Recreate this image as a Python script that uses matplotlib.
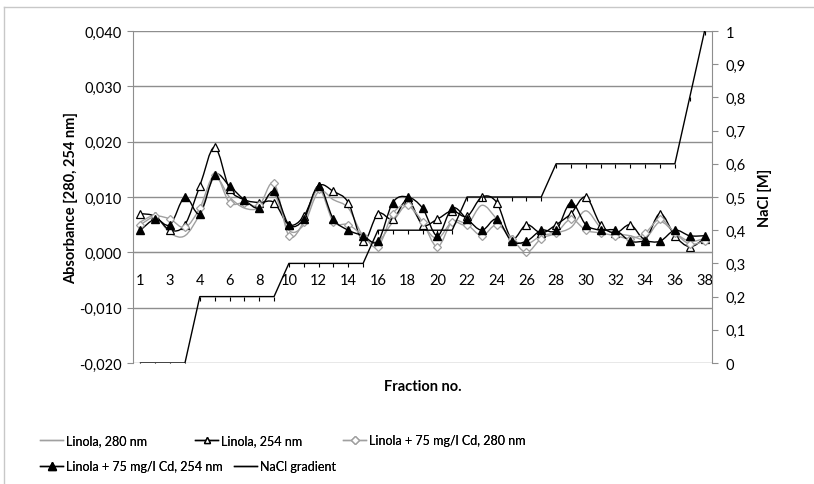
import matplotlib
matplotlib.use('Agg')
import matplotlib.pyplot as plt
from matplotlib.path import Path
from matplotlib.patches import PathPatch
from matplotlib.lines import Line2D
from matplotlib.ticker import FuncFormatter, MultipleLocator

plt.rcParams['font.family'] = ['Lato', 'DejaVu Sans']

# fraction labels (category axis, every other one is shown)
fractions = ['1', '2', '3', '3', '4'] + [str(n) for n in range(5, 39)]

# absorbance values
linola_280 = [0.0055, 0.0065, 0.0035, 0.0030, 0.0070, 0.0135, 0.0100, 0.0080, 0.0080, 0.0105,
              0.0040, 0.0050, 0.0110, 0.0095, 0.0080, 0.0030, 0.0020, 0.0055, 0.0085, 0.0050,
              0.0025, 0.0055, 0.0050, 0.0085, 0.0060, 0.0025, 0.0015, 0.0030, 0.0035, 0.0045,
              0.0075, 0.0045, 0.0035, 0.0030, 0.0025, 0.0055, 0.0035, 0.0020, 0.0025]
linola_254 = [0.0070, 0.0065, 0.0040, 0.0050, 0.0120, 0.0190, 0.0115, 0.0095, 0.0090, 0.0090,
              0.0050, 0.0065, 0.0120, 0.0110, 0.0090, 0.0020, 0.0070, 0.0060, 0.0095, 0.0050,
              0.0060, 0.0075, 0.0065, 0.0100, 0.0090, 0.0025, 0.0050, 0.0035, 0.0050, 0.0070,
              0.0100, 0.0050, 0.0035, 0.0050, 0.0025, 0.0070, 0.0030, 0.0010, 0.0025]
cd_280 = [0.0050, 0.0065, 0.0060, 0.0045, 0.0080, 0.0140, 0.0090, 0.0090, 0.0085, 0.0125,
          0.0030, 0.0055, 0.0115, 0.0055, 0.0050, 0.0030, 0.0010, 0.0070, 0.0085, 0.0055,
          0.0010, 0.0055, 0.0050, 0.0030, 0.0050, 0.0025, 0.0000, 0.0025, 0.0035, 0.0060,
          0.0040, 0.0035, 0.0030, 0.0025, 0.0035, 0.0060, 0.0035, 0.0015, 0.0020]
cd_254 = [0.0040, 0.0060, 0.0050, 0.0100, 0.0070, 0.0140, 0.0120, 0.0095, 0.0080, 0.0110,
          0.0050, 0.0060, 0.0120, 0.0060, 0.0040, 0.0030, 0.0020, 0.0090, 0.0100, 0.0080,
          0.0030, 0.0080, 0.0060, 0.0040, 0.0060, 0.0020, 0.0020, 0.0040, 0.0040, 0.0090,
          0.0050, 0.0040, 0.0040, 0.0020, 0.0020, 0.0020, 0.0040, 0.0030, 0.0030]
# NaCl concentration [M]
nacl = [0, 0, 0, 0, 0.2, 0.2, 0.2, 0.2, 0.2, 0.2,
        0.3, 0.3, 0.3, 0.3, 0.3, 0.3, 0.4, 0.4, 0.4, 0.4,
        0.4, 0.4, 0.5, 0.5, 0.5, 0.5, 0.5, 0.5, 0.6, 0.6,
        0.6, 0.6, 0.6, 0.6, 0.6, 0.6, 0.6, 0.8, 1.0]

legend_labels = ['Linola, 280 nm', 'Linola, 254 nm', 'Linola + 75 mg/l Cd, 280 nm',
                 'Linola + 75 mg/l Cd, 254 nm', 'NaCl gradient']

x = list(range(len(fractions)))
GRAY = '#a0a0a0'
GRID = '#8e8e8e'


def smooth_line(ax, xs, ys, color, lw=1.0):
    # excel-like smoothed line (catmull-rom as bezier)
    n = len(xs)
    verts = [(xs[0], ys[0])]
    codes = [Path.MOVETO]
    for i in range(n - 1):
        a = i - 1 if i > 0 else i
        d = i + 2 if i + 2 < n else i + 1
        c1 = (xs[i] + (xs[i + 1] - xs[a]) / 6, ys[i] + (ys[i + 1] - ys[a]) / 6)
        c2 = (xs[i + 1] - (xs[d] - xs[i]) / 6, ys[i + 1] - (ys[d] - ys[i]) / 6)
        verts += [c1, c2, (xs[i + 1], ys[i + 1])]
        codes += [Path.CURVE4] * 3
    ax.add_patch(PathPatch(Path(verts, codes), fill=False, edgecolor=color, lw=lw))


fig = plt.figure(figsize=(8.14, 4.85), dpi=100)
ax = fig.add_axes([133 / 814, 1 - 364 / 485, 579 / 814, 332 / 485])

smooth_line(ax, x, linola_280, GRAY)
smooth_line(ax, x, linola_254, 'black')
smooth_line(ax, x, cd_280, GRAY)
smooth_line(ax, x, cd_254, 'black')
ax.plot(x, linola_254, ls='none', marker='^', ms=6, mfc='white', mec='black', mew=0.9)
ax.plot(x, cd_280, ls='none', marker='D', ms=4, mfc='white', mec=GRAY, mew=0.9)
ax.plot(x, cd_254, ls='none', marker='^', ms=6, mfc='black', mec='black')

ax.set_xlim(-0.5, len(x) - 0.5)
ax.set_ylim(-0.020, 0.040)
ax.yaxis.set_major_locator(MultipleLocator(0.010))
ax.yaxis.set_major_formatter(FuncFormatter(lambda v, p: f'{v:.3f}'.replace('.', ',').replace('-0,000', '0,000')))
ax.set_xticks(x[::2])
ax.set_xticklabels(fractions[::2])
ax.tick_params(axis='x', length=0, pad=15, labelsize=10.5)
ax.tick_params(axis='y', length=4, color=GRID, labelsize=10.5, pad=4)
ax.grid(axis='y', color=GRID, lw=1)
ax.set_axisbelow(True)
for s in ['top', 'right']:
    ax.spines[s].set_visible(False)
ax.spines['left'].set_color(GRID)
ax.spines['bottom'].set_position(('data', 0))
ax.spines['bottom'].set_color(GRID)
ax.set_ylabel('Absorbance [280, 254 nm]', fontweight='bold', fontsize=10.5)
ax.yaxis.set_label_coords(-0.095, 0.5)
ax.text(0.5, -0.07, 'Fraction no.', transform=ax.transAxes, ha='center', va='center',
        fontweight='bold', fontsize=10.5)

ax2 = ax.twinx()
ax2.plot(x, nacl, color='black', lw=1.0, marker=3, ms=3, mew=0.8)
ax2.set_ylim(0, 1)
ax2.yaxis.set_major_locator(MultipleLocator(0.1))
ax2.yaxis.set_major_formatter(FuncFormatter(lambda v, p: f'{v:.1f}'.replace('.', ',').replace(',0', '')))
ax2.tick_params(axis='y', length=4, color=GRID, labelsize=10.5, pad=6)
for s in ['top', 'left', 'bottom']:
    ax2.spines[s].set_visible(False)
ax2.spines['right'].set_color(GRID)
ax2.set_ylabel('NaCl [M]', fontweight='bold', fontsize=10.5, rotation=90)
ax2.yaxis.set_label_coords(1.08, 0.5)

# chart frame
fig.add_artist(Line2D([4 / 814, 4 / 814], [0, 1 - 8 / 485], color='#c8c8c8', lw=1))
fig.add_artist(Line2D([4 / 814, 1], [1 - 8 / 485, 1 - 8 / 485], color='#c8c8c8', lw=1))

handles = [
    Line2D([], [], color=GRAY, lw=1),
    Line2D([], [], color='black', lw=1, marker='^', ms=5, mfc='white', mec='black'),
    Line2D([], [], color=GRAY, lw=1, marker='D', ms=4, mfc='white', mec=GRAY),
    Line2D([], [], color='black', lw=1, marker='^', ms=6, mfc='black'),
    Line2D([], [], color='black', lw=1),
]
# legend entries placed like excel's flowing legend
legend_pos = [(40, 441), (195, 441), (343, 441), (40, 467), (234, 467)]
for h, lab, (px, py) in zip(handles, legend_labels, legend_pos):
    leg = fig.legend([h], [lab], frameon=False, fontsize=9, handlelength=1.85,
                     handletextpad=0.2, borderaxespad=0, borderpad=0, loc='center left',
                     bbox_to_anchor=(px / 814, 1 - py / 485))
    fig.add_artist(leg)

fig.savefig('out.png', dpi=100)
